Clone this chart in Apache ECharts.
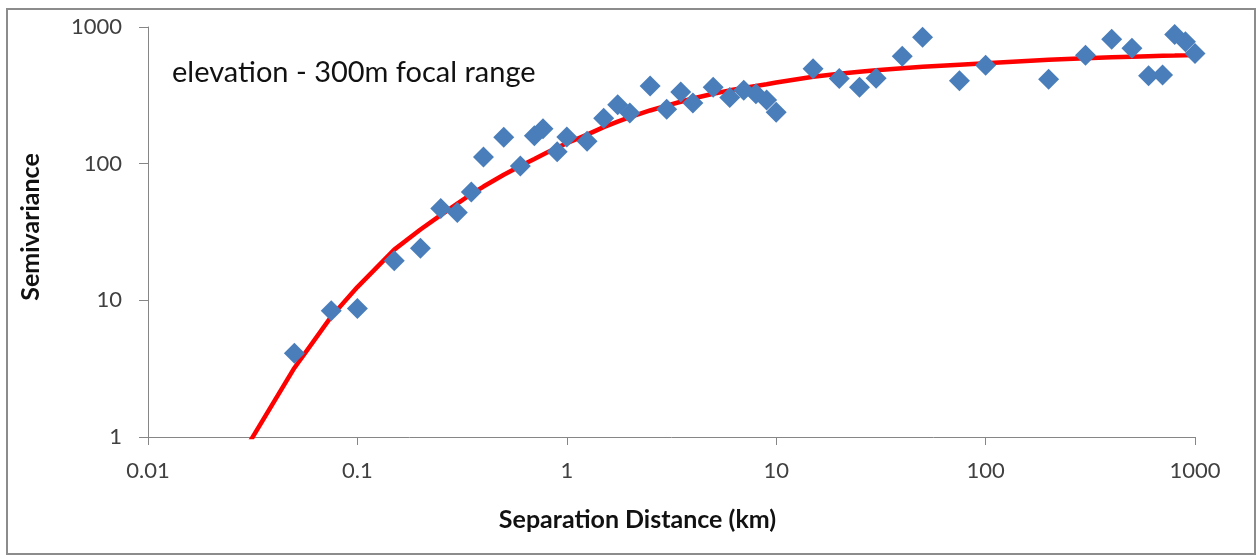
<!DOCTYPE html>
<html>
<head>
<meta charset="utf-8">
<script src="https://cdn.jsdelivr.net/npm/echarts@6/dist/echarts.min.js"></script>
<style>
  html, body { margin: 0; padding: 0; background: #fff; }
  #chart { width: 1259px; height: 559px; }
</style>
</head>
<body>
<div id="chart"></div>
<script>
// observed semivariance points (separation distance km, semivariance)
const distances = [0.05, 0.075, 0.1, 0.15, 0.2, 0.25, 0.3, 0.35, 0.4, 0.5, 0.6, 0.7, 0.77, 0.9, 1, 1.25, 1.5, 1.75, 2, 2.5, 3, 3.5, 4, 5, 6, 7, 8, 9, 10, 15, 20, 25, 30, 40, 50, 75, 100, 200, 300, 400, 500, 600, 700, 800, 900, 1000];
const semivariance = [4.1, 8.4, 8.7, 19.5, 24, 47, 44, 62, 112, 156, 96, 160, 180, 122, 157, 146, 215, 270, 235, 370, 250, 335, 278, 362, 305, 345, 325, 292, 238, 495, 420, 362, 422, 610, 840, 405, 525, 415, 620, 815, 700, 440, 445, 880, 780, 640];

// fitted model curve
const modelDistances = [0.025, 0.05, 0.075, 0.1, 0.15, 0.2, 0.25, 0.3, 0.35, 0.4, 0.5, 0.6, 0.7, 0.8, 0.9, 1, 1.25, 1.5, 1.75, 2, 2.5, 3, 3.5, 4, 5, 6, 7, 8, 9, 10, 15, 20, 25, 30, 40, 50, 75, 100, 200, 300, 400, 500, 600, 700, 800, 900, 1000];
const modelValues = [0.55, 3.2, 7.6, 12.5, 23.5, 33, 42, 51, 60, 68, 83, 96, 108, 120, 131, 141, 163, 185, 203, 219, 245, 266, 284, 300, 325, 344, 358, 370, 381, 392, 432, 455, 470, 482, 500, 512, 530, 542, 575, 590, 600, 607, 612, 616, 619, 622, 625];

const xTickLabels = ['0.01', '0.1', '1', '10', '100', '1000'];
const yTickLabels = ['1', '10', '100', '1000'];

const chart = echarts.init(document.getElementById('chart'));

const labelFor = (list) => (v) => {
  const hit = list.find(s => Math.abs(Math.log10(parseFloat(s)) - Math.log10(v)) < 1e-6);
  return hit || '';
};

const option = {
  animation: false,
  grid: { left: 148, right: 64, top: 27, bottom: 122 },
  graphic: [
    {
      type: 'rect',
      shape: { x: 7, y: 9, width: 1248, height: 545 },
      style: { fill: 'none', stroke: '#8c8c8c', lineWidth: 2 },
      silent: true
    },
    {
      type: 'text',
      x: 172, y: 73,
      style: {
        text: 'elevation - 300m focal range', fontFamily: 'Lato', fontSize: 29,
        fill: '#111', verticalAlign: 'middle'
      }
    }
  ],
  xAxis: {
    type: 'log', logBase: 10, min: 0.01, max: 1000,
    name: 'Separation Distance (km)', nameLocation: 'middle', nameGap: 70,
    nameTextStyle: { fontFamily: 'Lato', fontWeight: 'bold', fontSize: 25, color: '#111', padding: [0, 68, 0, 0] },
    axisLine: { lineStyle: { color: '#868686', width: 1 } },
    axisTick: { length: 8, lineStyle: { color: '#868686' } },
    minorTick: { show: false },
    splitLine: { show: false },
    axisLabel: { margin: 23, fontFamily: 'Lato', fontSize: 22, color: '#404040', formatter: labelFor(xTickLabels) }
  },
  yAxis: {
    type: 'log', logBase: 10, min: 1, max: 1000,
    name: 'Semivariance', nameLocation: 'middle', nameRotate: 90, nameGap: 105,
    nameTextStyle: { fontFamily: 'Lato', fontWeight: 'bold', fontSize: 25, color: '#111', padding: [0, 0, 0, 10] },
    axisLine: { show: true, lineStyle: { color: '#868686', width: 1 } },
    axisTick: { show: true, length: 9, lineStyle: { color: '#868686' } },
    splitLine: { show: false },
    axisLabel: { margin: 26, fontFamily: 'Lato', fontSize: 22, color: '#404040', formatter: labelFor(yTickLabels) }
  },
  series: [
    {
      type: 'line',
      data: modelDistances.map((d, i) => [d, modelValues[i]]),
      showSymbol: false,
      clip: true,
      lineStyle: { color: '#ff0000', width: 4.5 },
      z: 2
    },
    {
      type: 'scatter',
      data: distances.map((d, i) => [d, semivariance[i]]),
      symbol: 'diamond',
      symbolSize: 21,
      itemStyle: { color: '#4a7ebb', opacity: 1 },
      z: 3
    }
  ]
};

chart.setOption(option);
</script>
</body>
</html>
